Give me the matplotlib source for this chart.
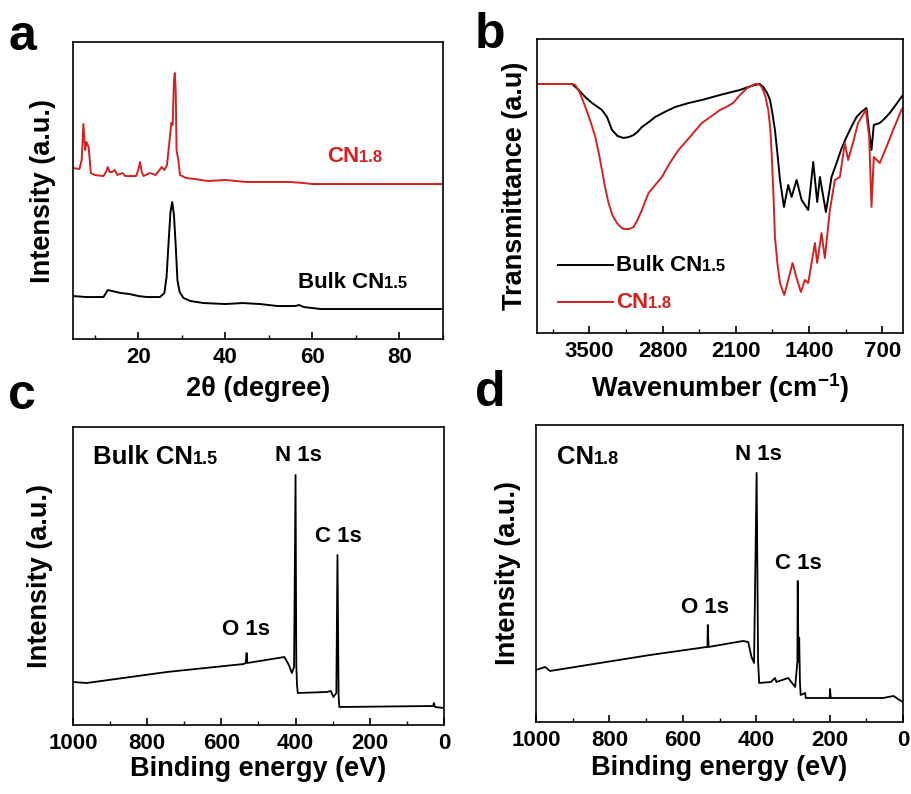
import matplotlib
matplotlib.use('Agg')
import matplotlib.pyplot as plt
from matplotlib.ticker import MultipleLocator
from matplotlib.offsetbox import TextArea, HPacker, AnnotationBbox, DrawingArea
from matplotlib.lines import Line2D

plt.rcParams['font.family'] = ['Liberation Sans', 'DejaVu Sans']
plt.rcParams['font.weight'] = 'bold'
plt.rcParams['axes.labelweight'] = 'bold'
plt.rcParams['mathtext.fontset'] = 'custom'
plt.rcParams['mathtext.rm'] = 'Liberation Sans:bold'
plt.rcParams['mathtext.bf'] = 'Liberation Sans:bold'
plt.rcParams['mathtext.default'] = 'bf'

RED = '#d42222'

# (a) XRD, 2theta in degree, intensity a.u.
xrd_cn18_x = [5, 6.5, 7.0, 7.4, 7.8, 8.1, 8.6, 9.1, 10, 12, 12.6, 13, 13.4, 14, 14.6, 15.2, 16.4, 17,
              19.5, 20.0, 20.4, 20.8, 21.2, 22.7, 24, 25.4, 26.0, 26.6, 27.2, 27.6, 27.9, 28.2, 28.4,
              28.6, 28.8, 29.2, 29.6, 31, 33, 36, 40, 45, 50, 55, 58, 60, 70, 90]
xrd_cn18_y = [171, 170, 179, 215, 189, 197, 192, 166, 164, 163, 167, 172, 167, 167, 169, 164, 166, 163,
              163, 169, 177, 167, 163, 166, 164, 172, 169, 174, 199, 216, 214, 259, 266,
              249, 189, 179, 164, 161, 160, 158, 159, 157, 157, 157, 156, 155, 155, 155]
xrd_bulk_x = [5, 8, 12, 13, 14, 16, 18, 20, 22, 25, 26, 26.5, 27.0, 27.4, 27.8, 28.2, 28.6, 29.0, 29.5,
              30.4, 32, 35, 40, 44, 48, 52, 56, 57, 58, 62, 90]
xrd_bulk_y = [43, 42, 42, 49, 48, 46, 45, 43, 42, 42, 46, 62, 99, 127, 137, 124, 94, 59, 47,
              41, 38, 36, 35, 36, 35, 33, 33, 34, 32, 30, 30]

# (b) FTIR, wavenumber cm-1, transmittance a.u.
ir_bulk_x = [4000, 3665, 3602, 3540, 3474, 3420, 3379, 3331, 3283, 3230, 3173, 3120, 3077, 3040, 2997,
             2930, 2870, 2780, 2679, 2550, 2424, 2250, 2138, 2059, 1980, 1916, 1870, 1836, 1800, 1772,
             1750, 1725, 1700, 1677, 1639, 1598, 1566, 1518, 1470, 1407, 1359, 1321, 1295,
             1238, 1184, 1136, 1090, 1041, 990, 945, 900, 850, 818, 802, 780, 723, 680, 627, 570, 516, 500]
ir_bulk_y = [249, 249, 243, 236, 230, 226, 223, 216, 203, 197, 195, 196, 198, 201, 206,
             211, 216, 221, 226, 230, 233, 238, 241, 243, 246, 248, 249, 246, 240, 233,
             220, 203, 178, 153, 126, 148, 136, 153, 133, 123, 171, 131, 156,
             121, 156, 170, 184, 196, 207, 216, 221, 225, 196, 183, 208, 210, 214, 220, 228, 236, 238]
ir_cn18_x = [4000, 3665, 3634, 3590, 3538, 3490, 3443, 3410, 3379, 3350, 3316, 3280, 3236, 3200, 3173,
             3120, 3077, 3040, 2997, 2960, 2934, 2870, 2806, 2730, 2647, 2530, 2424, 2330, 2250, 2190,
             2125, 2059, 1990, 1916, 1880, 1852, 1820, 1789, 1770, 1757, 1740, 1725, 1700, 1677, 1636,
             1598, 1557, 1518, 1477, 1439, 1407, 1343, 1321, 1280, 1248, 1200, 1152, 1104, 1057, 1025,
             977, 930, 856, 824, 802, 780, 723, 659, 595, 516, 500]
ir_cn18_y = [249, 249, 248, 240, 226, 212, 196, 180, 163, 146, 130, 118, 110, 106, 104,
             104, 106, 113, 123, 133, 140, 148, 156, 170, 183, 197, 210, 217, 223, 226,
             230, 238, 245, 249, 249, 246, 238, 223, 205, 180, 140, 96, 68, 50, 38,
             53, 70, 55, 41, 53, 50, 90, 70, 100, 75, 123, 153, 156, 190, 173,
             191, 210, 223, 196, 126, 176, 170, 186, 203, 223, 225]

# (c) XPS survey, bulk CN1.5
xps_bulk_x = [1000, 963, 747, 540, 534, 532, 530, 430, 418, 410, 404, 400, 398, 396, 394, 316, 305,
              298, 290, 287, 284, 282, 29, 27, 24, 0]
xps_bulk_y = [43, 42, 53, 61, 62, 72, 62, 68, 60, 52, 58, 250, 60, 40, 32, 33, 34,
              28, 32, 170, 30, 18, 19, 22, 18, 17]

# (d) XPS survey, CN1.8
xps_cn18_x = [1000, 975, 962, 689, 535, 533, 532, 530, 436, 422, 413, 406, 399, 395, 392, 360, 349,
              345, 313, 294, 288, 287, 285, 283, 281, 279, 267, 265, 200, 199, 197, 54, 26, 10, 0]
xps_cn18_y = [52, 55, 51, 67, 75, 75, 97, 75, 81, 80, 65, 59, 249, 60, 39, 40, 44,
              40, 44, 35, 60, 141, 60, 84, 40, 27, 29, 24, 24, 33, 24, 24, 26, 22, 20]


def sub_label(ax, x, y, main, sub, color, size, subsize):
    t1 = TextArea(main, textprops=dict(color=color, fontsize=size, fontweight='bold'))
    t2 = TextArea(sub, textprops=dict(color=color, fontsize=subsize, fontweight='bold'))
    box = HPacker(children=[t1, t2], align='baseline', pad=0, sep=0)
    ab = AnnotationBbox(box, (x, y), xycoords=ax.transAxes, frameon=False,
                        box_alignment=(0, 0.5), pad=0)
    ax.add_artist(ab)


def legend_row(ax, x, y, line, main, sub, color):
    da = DrawingArea(40, 20, 0, 0)
    da.add_artist(Line2D([0, 40], [10, 10], color=line.get_color(), lw=line.get_linewidth()))
    t1 = TextArea(main, textprops=dict(color=color, fontsize=16, fontweight='bold'))
    t2 = TextArea(sub, textprops=dict(color=color, fontsize=12, fontweight='bold'))
    txt = HPacker(children=[t1, t2], align='baseline', pad=0, sep=0)
    row = HPacker(children=[da, txt], align='center', pad=0, sep=2)
    ab = AnnotationBbox(row, (x, y), xycoords=ax.transAxes, frameon=False,
                        box_alignment=(0, 0.5), pad=0)
    ax.add_artist(ab)


def style(ax, major, minor):
    ax.set_yticks([])
    ax.xaxis.set_major_locator(MultipleLocator(major))
    ax.xaxis.set_minor_locator(MultipleLocator(minor))
    ax.tick_params(axis='x', which='major', direction='in', length=5, width=1.2, labelsize=16, pad=6)
    ax.tick_params(axis='x', which='minor', direction='in', length=3, width=1.0)
    for s in ax.spines.values():
        s.set_linewidth(1.2)


fig = plt.figure(figsize=(9.11, 7.94), dpi=100)
ax_a = fig.add_axes([0.0801, 0.5730, 0.4061, 0.3741])
ax_b = fig.add_axes([0.5895, 0.5806, 0.4018, 0.3703])
ax_c = fig.add_axes([0.0801, 0.0869, 0.4072, 0.3753])
ax_d = fig.add_axes([0.5884, 0.0907, 0.4029, 0.3741])

# a
ax_a.plot(xrd_cn18_x, xrd_cn18_y, color=RED, lw=1.4)
ax_a.plot(xrd_bulk_x, xrd_bulk_y, color='black', lw=1.4)
ax_a.set_xlim(5, 90)
ax_a.set_ylim(0, 297)
style(ax_a, 20, 10)
ax_a.set_xticks([20, 40, 60, 80])
ax_a.set_xlabel('2θ (degree)', fontsize=19.5)
ax_a.xaxis.set_label_coords(0.5, -0.125)
ax_a.set_ylabel('Intensity (a.u.)', fontsize=19.5)
ax_a.yaxis.set_label_coords(-0.046, 0.5)
sub_label(ax_a, 0.686, 0.613, 'CN', '1.8', RED, 16, 12)
sub_label(ax_a, 0.608, 0.189, 'Bulk CN', '1.5', 'black', 16, 12)

# b
l_bulk, = ax_b.plot(ir_bulk_x, ir_bulk_y, color='black', lw=1.4)
l_cn18, = ax_b.plot(ir_cn18_x, ir_cn18_y, color=RED, lw=1.4)
ax_b.set_xlim(4000, 500)
ax_b.set_ylim(0, 294)
style(ax_b, 700, 350)
ax_b.set_xticks([3500, 2800, 2100, 1400, 700])
ax_b.set_xlabel('Wavenumber (cm$^{-1}$)', fontsize=19.5)
ax_b.xaxis.set_label_coords(0.5, -0.13)
ax_b.set_ylabel('Transmittance (a.u)', fontsize=19.5)
ax_b.yaxis.set_label_coords(-0.025, 0.5)
legend_row(ax_b, 0.057, 0.231, l_bulk, 'Bulk CN', '1.5', 'black')
legend_row(ax_b, 0.057, 0.105, l_cn18, 'CN', '1.8', RED)

# c
ax_c.plot(xps_bulk_x, xps_bulk_y, color='black', lw=1.3)
ax_c.set_xlim(1000, 0)
ax_c.set_ylim(0, 298)
style(ax_c, 200, 100)
ax_c.set_xlabel('Binding energy (eV)', fontsize=19.5)
ax_c.xaxis.set_label_coords(0.5, -0.105)
ax_c.set_ylabel('Intensity (a.u.)', fontsize=19.5)
ax_c.yaxis.set_label_coords(-0.054, 0.5)
sub_label(ax_c, 0.053, 0.899, 'Bulk CN', '1.5', 'black', 18.5, 13)
ax_c.text(0.544, 0.904, 'N 1s', transform=ax_c.transAxes, fontsize=16, ha='left', va='center')
ax_c.text(0.652, 0.634, 'C 1s', transform=ax_c.transAxes, fontsize=16, ha='left', va='center')
ax_c.text(0.402, 0.319, 'O 1s', transform=ax_c.transAxes, fontsize=16, ha='left', va='center')

# d
ax_d.plot(xps_cn18_x, xps_cn18_y, color='black', lw=1.3)
ax_d.set_xlim(1000, 0)
ax_d.set_ylim(0, 297)
style(ax_d, 200, 100)
ax_d.set_xlabel('Binding energy (eV)', fontsize=19.5)
ax_d.xaxis.set_label_coords(0.5, -0.11)
ax_d.set_ylabel('Intensity (a.u.)', fontsize=19.5)
ax_d.yaxis.set_label_coords(-0.041, 0.5)
sub_label(ax_d, 0.057, 0.893, 'CN', '1.8', 'black', 18.5, 13)
ax_d.text(0.542, 0.899, 'N 1s', transform=ax_d.transAxes, fontsize=16, ha='left', va='center')
ax_d.text(0.651, 0.532, 'C 1s', transform=ax_d.transAxes, fontsize=16, ha='left', va='center')
ax_d.text(0.395, 0.387, 'O 1s', transform=ax_d.transAxes, fontsize=16, ha='left', va='center')

# panel letters
fig.text(8 / 911, 1 - 50 / 794, 'a', fontsize=36, va='baseline', ha='left')
fig.text(475 / 911, 1 - 48 / 794, 'b', fontsize=36, va='baseline', ha='left')
fig.text(8 / 911, 1 - 409 / 794, 'c', fontsize=36, va='baseline', ha='left')
fig.text(475 / 911, 1 - 406 / 794, 'd', fontsize=36, va='baseline', ha='left')

fig.savefig('out.png', dpi=100)
